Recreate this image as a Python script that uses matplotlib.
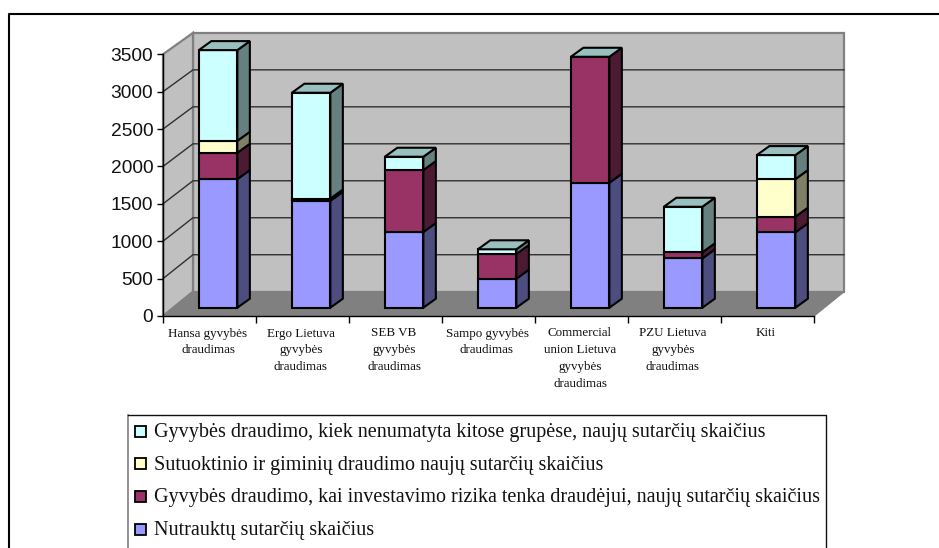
import matplotlib
matplotlib.use("Agg")
import matplotlib.pyplot as plt
from matplotlib.patches import Polygon, Rectangle
from matplotlib.lines import Line2D

categories = [
    "Hansa gyvybės\ndraudimas",
    "Ergo Lietuva\ngyvybės\ndraudimas",
    "SEB VB\ngyvybės\ndraudimas",
    "Sampo gyvybės\ndraudimas",
    "Commercial\nunion Lietuva\ngyvybės\ndraudimas",
    "PZU Lietuva\ngyvybės\ndraudimas",
    "Kiti",
]
nutraukta = [1720, 1430, 1012, 388, 1671, 660, 1008]
investavimo = [352, 30, 829, 330, 1685, 81, 209]
sutuoktinio = [160, 0, 0, 0, 0, 0, 503]
kitos = [1213, 1415, 178, 63, 0, 609, 321]
series_names = [
    "Gyvybės draudimo, kiek nenumatyta kitose grupėse, naujų sutarčių skaičius",
    "Sutuoktinio ir giminių draudimo naujų sutarčių skaičius",
    "Gyvybės draudimo, kai investavimo rizika tenka draudėjui, naujų sutarčių skaičius",
    "Nutrauktų sutarčių skaičius",
]
y_ticks = [0, 500, 1000, 1500, 2000, 2500, 3000, 3500]

W, H = 939, 548
PX_X = 651 / 7  # pixels per category
PX_Y = 261.7 / 3500  # pixels per unit
DEPTH_X = 30 / PX_X
DEPTH_Y = 24.3 / PX_Y
BACK = 0.989  # back wall is a little shorter than the axis
BAR_W = 38.5 / PX_X
BAR_DX = 12.5 / PX_X
BAR_DY = 9 / PX_Y
BAR_SHIFT_X = 8.6 / PX_X
BAR_SHIFT_Y = 8.3 / PX_Y

side = {"#CCFFFF": "#668080", "#FFFFCC": "#808066", "#993366": "#4D1A33", "#9999FF": "#4D4D80"}
TOP_COLOR = "#99BFBF"


def poly(ax, pts, fc, ec="black", lw=1.5, z=3):
    ax.add_patch(Polygon(pts, closed=True, fc=fc, ec=ec, lw=lw, zorder=z, clip_on=False, joinstyle="miter"))


fig = plt.figure(figsize=(W / 100, H / 100), dpi=100)
ax = fig.add_axes([163 / W, 1 - 316 / H, 651 / W, 261.7 / H])
ax.set_xlim(0, 7)
ax.set_ylim(0, 3500)
ax.patch.set_alpha(0)
for s in ["top", "right"]:
    ax.spines[s].set_visible(False)
for s in ["left", "bottom"]:
    ax.spines[s].set_linewidth(1.0)

# walls and floor
wall_top = 3500 * BACK + DEPTH_Y
poly(ax, [(DEPTH_X, DEPTH_Y), (7 + DEPTH_X, DEPTH_Y), (7 + DEPTH_X, wall_top), (DEPTH_X, wall_top)],
     "#C0C0C0", ec="#808080", lw=1.6, z=0)
poly(ax, [(0, 0), (DEPTH_X, DEPTH_Y), (DEPTH_X, wall_top), (0, 3500)], "#C0C0C0", ec="#808080", lw=1.6, z=0)
poly(ax, [(0, 0), (7, 0), (7 + DEPTH_X, DEPTH_Y), (DEPTH_X, DEPTH_Y)], "#808080", ec="#808080", lw=1, z=0)
for t in y_ticks[1:7]:
    back_y = t * BACK + DEPTH_Y
    ax.plot([0, DEPTH_X, 7 + DEPTH_X], [t, back_y, back_y], color="#303030", lw=1.0, zorder=1, clip_on=False)

# stacked bars
colors = ["#9999FF", "#993366", "#FFFFCC", "#CCFFFF"]
stack = [nutraukta, investavimo, sutuoktinio, kitos]
for i in range(len(categories)):
    x0 = i + 0.5 + BAR_SHIFT_X - BAR_W / 2
    x1 = x0 + BAR_W
    base = BAR_SHIFT_Y
    for vals, c in zip(stack, colors):
        v = vals[i]
        if v == 0:
            continue
        poly(ax, [(x1, base), (x1 + BAR_DX, base + BAR_DY), (x1 + BAR_DX, base + v + BAR_DY), (x1, base + v)], side[c])
        poly(ax, [(x0, base), (x1, base), (x1, base + v), (x0, base + v)], c, z=4)
        base += v
    poly(ax, [(x0, base), (x1, base), (x1 + BAR_DX, base + BAR_DY), (x0 + BAR_DX, base + BAR_DY)], TOP_COLOR, z=4)

ax.set_yticks(y_ticks)
ax.set_yticklabels([str(t) for t in y_ticks], fontsize=13.8, family="Liberation Sans", color="#111111")
ax.tick_params(axis="y", length=4, width=1, pad=3)
ax.set_xticks(range(8))
ax.set_xticklabels([])
ax.tick_params(axis="x", length=5, width=1)
for i, name in enumerate(categories):
    ax.annotate(name, (i + 0.5, 0), xytext=(-1.5, -11.5), textcoords="offset pixels", ha="center", va="top",
                fontsize=9.4, family="Liberation Serif", color="#111111", linespacing=1.52,
                annotation_clip=False)

# legend drawn by hand, it runs off the bottom of the page
fig.add_artist(Line2D([128 / W, 128 / W], [0, 1 - 414.5 / H], transform=fig.transFigure, color="#808080", lw=1.2))
fig.add_artist(Line2D([128 / W, 826 / W, 826 / W], [1 - 414.5 / H, 1 - 414.5 / H, 0],
                      transform=fig.transFigure, color="#111111", lw=1.0))
leg_colors = colors[::-1]
for k, (name, c) in enumerate(zip(series_names, leg_colors)):
    y = 431 + k * 32.7
    fig.add_artist(Rectangle((135 / W, 1 - (y + 5.5) / H), 11 / W, 11 / H, transform=fig.transFigure,
                             fc=c, ec="black", lw=1.3))
    fig.text(154 / W, 1 - (y + 1.5) / H, name, fontsize=14.5, family="Liberation Serif", color="#111111", va="center")

# page frame, only top and left are on the page
fig.add_artist(Line2D([8.5 / W, 8.5 / W, 1], [0, 1 - 14 / H, 1 - 14 / H],
                      transform=fig.transFigure, color="black", lw=1.5))

fig.savefig("out.png", dpi=100)
